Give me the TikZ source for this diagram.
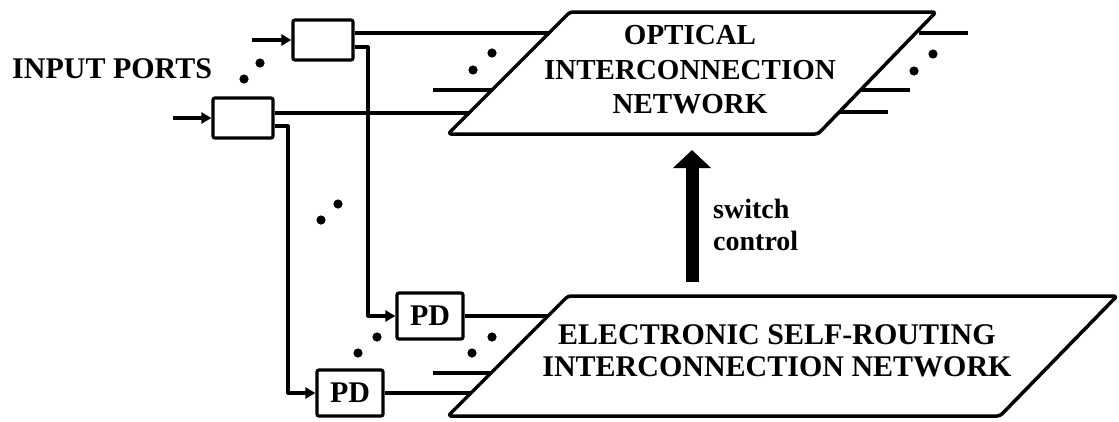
\documentclass[tikz,border=0pt]{standalone}
\usepackage{fontspec}
\setmainfont{Liberation Serif}
\usetikzlibrary{arrows.meta,calc}
\begin{document}
\begin{tikzpicture}[x=1pt,y=-1pt,
  wire/.style={draw, line width=3.2pt},
  arr/.style={wire, -{Triangle[length=10pt,width=11pt]}},
  box/.style={draw, line width=3.2pt, rounded corners=2pt, minimum width=60pt, minimum height=40pt, inner sep=0pt},
  pdbox/.style={box, minimum width=66pt, minimum height=46pt, font=\fontsize{30}{30}\selectfont\bfseries},
  net/.style={draw, line width=3.5pt, rounded corners=3pt, line join=round},
  lbl/.style={font=\bfseries, inner sep=0pt},
  bigarrow/.style={draw, line width=13pt, -{Triangle[length=18pt,width=37pt]}},
  dotmark/.style={fill=black}
]
\path[fill=white] (0,0) rectangle (1119,421);
\useasboundingbox (0,0) rectangle (1119,421);

% input buffers
\node[box] (in1) at (323,40) {};
\node[box] (in2) at (243,118) {};
\coordinate (p1) at (252,40);
\coordinate (p2) at (173,118);
\draw[arr] (p1) -- (in1.west);
\draw[arr] (p2) -- (in2.west);

\node[lbl, anchor=base west, font=\fontsize{30}{30}\selectfont\bfseries] (inports) at (12,78) {INPUT PORTS};

% optical interconnection network
\coordinate (oTL) at (570,12);
\coordinate (oTR) at (936,12);
\coordinate (oBR) at (818,134);
\coordinate (oBL) at (448,134);
\draw[net] (oTL) -- (oTR) -- (oBR) -- (oBL) -- cycle;
\node[lbl, align=center, font=\fontsize{29}{34.5}\selectfont\bfseries] (optlbl) at (690,70)
  {OPTICAL\\INTERCONNECTION\\NETWORK};

% electronic self-routing network
\coordinate (eTL) at (568,296);
\coordinate (eTR) at (1117,296);
\coordinate (eBR) at (1000,416);
\coordinate (eBL) at (448,416);
\draw[net] (eTL) -- (eTR) -- (eBR) -- (eBL) -- cycle;
\node[lbl, align=center, font=\fontsize{30}{32}\selectfont\bfseries] (elab) at (777,351)
  {ELECTRONIC SELF-ROUTING\\INTERCONNECTION NETWORK};

% photodetectors
\node[pdbox] (pd1) at (430,316) {PD};
\node[pdbox] (pd2) at (350,393) {PD};

% lines into optical network
\coordinate (oA) at (549,33);
\coordinate (oB) at (469,113);
\draw[wire] (in1.east |- oA) -- (oA);
\draw[wire] (in2.east |- oB) -- (oB);
\coordinate (sL1) at (433,90);
\coordinate (sL2) at (492,90);
\draw[wire] (sL1) -- (sL2);
% lines out of optical network
\coordinate (r1a) at (919,33);  \coordinate (r1b) at (968,33);
\coordinate (r2a) at (862,90);  \coordinate (r2b) at (910,90);
\coordinate (r3a) at (840,112); \coordinate (r3b) at (888,112);
\draw[wire] (r1a) -- (r1b);
\draw[wire] (r2a) -- (r2b);
\draw[wire] (r3a) -- (r3b);

% taps to photodetectors
\coordinate (v1) at (368,47);
\coordinate (v2) at (288,126);
\draw[arr, line join=round] (in1.east |- v1) -- (v1) |- (pd1.west);
\draw[arr, line join=round] (in2.east |- v2) -- (v2) |- (pd2.west);

% lines into electronic network
\coordinate (eA) at (548,316);
\coordinate (eB) at (471,393);
\draw[wire] (pd1.east) -- (eA);
\draw[wire] (pd2.east) -- (eB);
\coordinate (sE1) at (433,373);
\coordinate (sE2) at (491,373);
\draw[wire] (sE1) -- (sE2);

% switch control arrow
\coordinate (sA) at (692,282);
\coordinate (sB) at (692,150);
\draw[bigarrow] (sA) -- (sB);
\node[lbl, anchor=north west, align=left, font=\fontsize{28}{32}\selectfont\bfseries] (swlbl) at (713,199)
  {switch\\control};

% ellipsis dots
\foreach \x/\y in {260/63, 244/79, 492/53, 473/70, 933/54, 914/71, 338/204, 321/220,
                    377/337, 358/353, 492/337, 472/353}
  \fill[dotmark] (\x,\y) circle (4.6pt);
\end{tikzpicture}
\end{document}
